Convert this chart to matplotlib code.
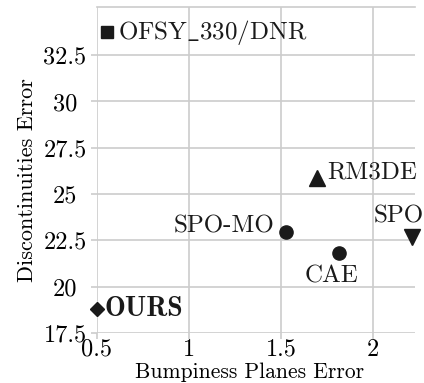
import matplotlib
matplotlib.use("Agg")
import matplotlib.pyplot as plt

plt.rcParams['font.family'] = ['cmr10', 'DejaVu Serif']
plt.rcParams['mathtext.fontset'] = 'cm'
plt.rcParams['axes.formatter.use_mathtext'] = True

methods = ["OFSY$\\_$330/DNR", "RM3DE", "SPO-MO", "CAE", "SPO", "OURS"]
bumpiness = [0.554, 1.696, 1.527, 1.815, 2.21, 0.50]
discont = [33.74, 25.86, 22.93, 21.80, 22.70, 18.80]
markers = ["s", "^", "o", "o", "v", "D"]
msizes = [9, 11, 9.5, 9.5, 11, 7.5]
# label offsets in pixels (dx, dy), alignment
offsets = [(11, 0, "left", "center"), (10, 0, "left", "baseline"),
           (-12, 0, "right", "baseline"), (-7, -12, "center", "top"),
           (-38, 14, "left", "baseline"), (8, 0, "left", "center")]

xticks = [0.5, 1, 1.5, 2]
xticklabels = ["0.5", "1", "1.5", "2"]
yticks = [17.5, 20, 22.5, 25, 27.5, 30, 32.5]
yticklabels = ["17.5", "20", "22.5", "25", "27.5", "30", "32.5"]

fig = plt.figure(figsize=(4.24, 3.83), dpi=100)
ax = fig.add_axes([97/424, 1-333/383, (415-97)/424, (333-7)/383])

grid_c = "#cccccc"
ax.set_xlim(0.5, 2.228)
ax.set_ylim(17.5, 35.1)
ax.set_xticks(xticks)
ax.set_xticklabels(xticklabels)
ax.set_yticks(yticks)
ax.set_yticklabels(yticklabels)
ax.grid(True, color=grid_c, linewidth=1.2)
ax.set_axisbelow(True)
for s in ["left", "bottom", "right"]:
    ax.spines[s].set_visible(False)
ax.spines["top"].set_color(grid_c)
ax.spines["top"].set_linewidth(1.2)
ax.tick_params(axis="both", length=4, width=1.2, color=grid_c, labelsize=17.5)
ax.tick_params(axis="x", pad=0)
ax.tick_params(axis="y", pad=19)
for lab in ax.get_yticklabels():
    lab.set_horizontalalignment("center")

mc = "#1a1a1a"
for name, x, y, m, ms, (dx, dy, ha, va) in zip(methods, bumpiness, discont, markers, msizes, offsets):
    ax.plot([x], [y], marker=m, markersize=ms, color=mc, linestyle="none", clip_on=False, zorder=3)
    bold = name == "OURS"
    fam = ['cmb10', 'DejaVu Serif'] if bold else ['cmr10', 'DejaVu Serif']
    ax.annotate(name, (x, y), xytext=(dx*0.72, dy*0.72), textcoords="offset points",
                ha=ha, va=va, fontsize=20 if bold else 18, family=fam,
                color="#1a1a1a", annotation_clip=False)

ax.set_xlabel("Bumpiness Planes Error", fontsize=15.5)
ax.set_ylabel("Discontinuities Error", fontsize=16)
ax.xaxis.set_label_coords(0.481, -0.089)
ax.yaxis.set_label_coords(-0.19, 0.468)

fig.savefig("out.png", dpi=100)
